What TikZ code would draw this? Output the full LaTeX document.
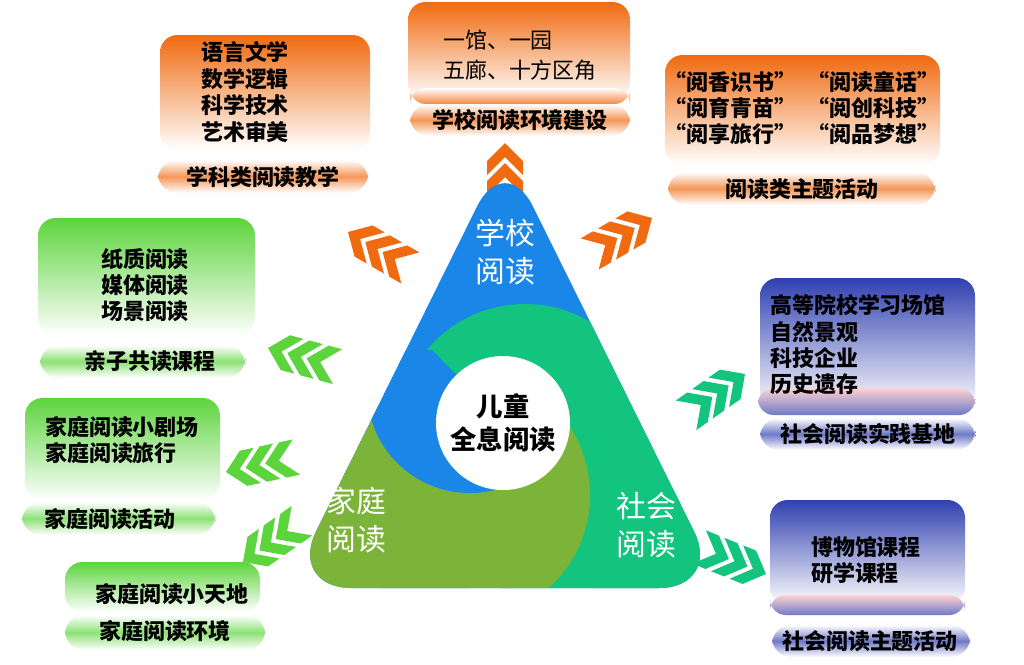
\documentclass[tikz,border=0pt]{standalone}
\usepackage{fontspec}
\setmainfont{Noto Sans CJK SC}
\usetikzlibrary{positioning}
\definecolor{ora}{HTML}{F06A10}
\definecolor{grn}{HTML}{5CD43C}
\definecolor{blu}{HTML}{3040B0}
\definecolor{tri}{HTML}{1A86E8}
\definecolor{tea}{HTML}{12C47E}
\definecolor{oli}{HTML}{7CB43A}
\tikzset{
  box/.style={rounded corners=10pt,top color=#1,bottom color=white,minimum width=0pt},
  bar/.style={rounded corners=11pt,shading=axis,top color=white,bottom color=white,middle color=#1!70},
  txt/.style={font=\fontsize{12.5}{15}\selectfont\bfseries,align=left,inner sep=0pt},
  big/.style={font=\fontsize{17}{22}\selectfont,text=white,align=center},
  chevs/.pic={\foreach \i in {0,1,2}
      \path[pic actions] ({-20*\i},0) -- ({-20*\i-18},18) -- ({-20*\i-32},18)
        -- ({-20*\i-14},0) -- ({-20*\i-32},-18) -- ({-20*\i-18},-18) -- cycle;}
}
\begin{document}
\begin{tikzpicture}[x=0.02cm,y=-0.02cm]
\useasboundingbox (0,0) rectangle (1024,664);
% chevrons
\pic[fill=ora,rotate=90] at (505,143) {chevs};
\pic[fill=ora,rotate=150] at (348,232) {chevs};
\pic[fill=ora,rotate=30] at (652,218) {chevs};
\pic[fill=grn,rotate=165] at (268,348) {chevs};
\pic[fill=grn,rotate=192] at (226,472) {chevs};
\pic[fill=grn,rotate=215] at (243,562) {chevs};
\pic[fill=tea,rotate=35] at (745,374) {chevs};
\pic[fill=tea,rotate=-22] at (766,574) {chevs};
% triangle
\begin{scope}
  \clip[rounded corners=36pt] (505,150) -- (722,588) -- (288,588) -- cycle;
  \fill[tri] (280,130) rectangle (730,600);
  \fill[tea] (525,432) circle (128);
  \fill[tea] (590,430) rectangle (730,600);
  \fill[tea] (500,480) rectangle (730,600);
  \begin{scope}
    \clip (280,365) -- (440,365) -- (440,425) -- (730,425) -- (730,600) -- (280,600) -- cycle;
    \fill[oli] (465,495) circle (125);
    \fill[oli] (280,470) rectangle (470,600);
  \end{scope}
  \begin{scope}
    \clip (503,423) -- (432,350) -- (280,350) -- (280,600) -- (503,600) -- cycle;
    \fill[tri] (470,390) circle (103);
  \end{scope}
\end{scope}
\node[circle,fill=white,minimum size=134*0.02cm] (core) at (503,423) {};
\node[font=\fontsize{15}{19}\selectfont\bfseries,align=center] at (core) {儿童\\全息阅读};
\node[big] (school) at (505,252) {学校\\阅读};
\node[big] (home) at (356,520) {家庭\\阅读};
\node[big] (soc) at (646,525) {社会\\阅读};
% orange boxes
\shade[box=ora] (160,35) rectangle (370,150);
\node[txt] (subj) at (245,92) {语言文学\\数学逻辑\\科学技术\\艺术审美};
\shade[bar=ora] (158,160) rectangle (368,193);
\node[txt] (subjt) at (263,177) {学科类阅读教学};
\shade[box=ora] (408,2) rectangle (630,100);
\shade[rounded corners=9pt,top color=white,bottom color=ora!80] (410,88) rectangle (630,104);
\node[txt,font=\fontsize{12.5}{17}\selectfont] (env) at (520,55) {一馆、一园\\五廊、十方区角};
\shade[bar=ora] (410,104) rectangle (630,136);
\node[txt] (envt) at (520,120) {学校阅读环境建设};
\shade[box=ora] (665,55) rectangle (940,165);
\node[txt,align=center] (act) at (802,108) {“阅香识书”\enspace“阅读童话”\\“阅育青苗”\enspace“阅创科技”\\“阅享旅行”\enspace“阅品梦想”};
\shade[bar=ora] (668,172) rectangle (935,205);
\node[txt] (actt) at (802,189) {阅读类主题活动};
% green boxes
\shade[box=grn] (38,218) rectangle (255,335);
\node[txt] (par) at (145,285) {纸质阅读\\媒体阅读\\场景阅读};
\shade[bar=grn] (40,345) rectangle (245,378);
\node[txt] (part) at (150,361) {亲子共读课程};
\shade[box=grn] (25,398) rectangle (220,500);
\node[txt] (fam) at (122,440) {家庭阅读小剧场\\家庭阅读旅行};
\shade[bar=grn] (22,502) rectangle (215,535);
\node[txt] (famt) at (110,519) {家庭阅读活动};
\shade[box=grn] (65,562) rectangle (260,612);
\node[txt] (corner) at (172,594) {家庭阅读小天地};
\shade[bar=grn] (65,615) rectangle (265,650);
\node[txt] (cornert) at (165,631) {家庭阅读环境};
% blue boxes
\shade[box=blu] (760,278) rectangle (975,410);
\shade[rounded corners=9pt,top color=pink!70,bottom color=blu!70] (758,388) rectangle (975,415);
\node[txt] (base) at (858,345) {高等院校学习场馆\\自然景观\\科技企业\\历史遗存};
\shade[bar=blu] (760,418) rectangle (975,450);
\node[txt] (baset) at (868,434) {社会阅读实践基地};
\shade[box=blu] (770,500) rectangle (965,605);
\shade[rounded corners=9pt,top color=pink!70,bottom color=blu!70] (770,595) rectangle (965,615);
\node[txt] (mus) at (866,560) {博物馆课程\\研学课程};
\shade[bar=blu] (772,625) rectangle (970,657);
\node[txt] (must) at (870,641) {社会阅读主题活动};
\end{tikzpicture}
\end{document}
